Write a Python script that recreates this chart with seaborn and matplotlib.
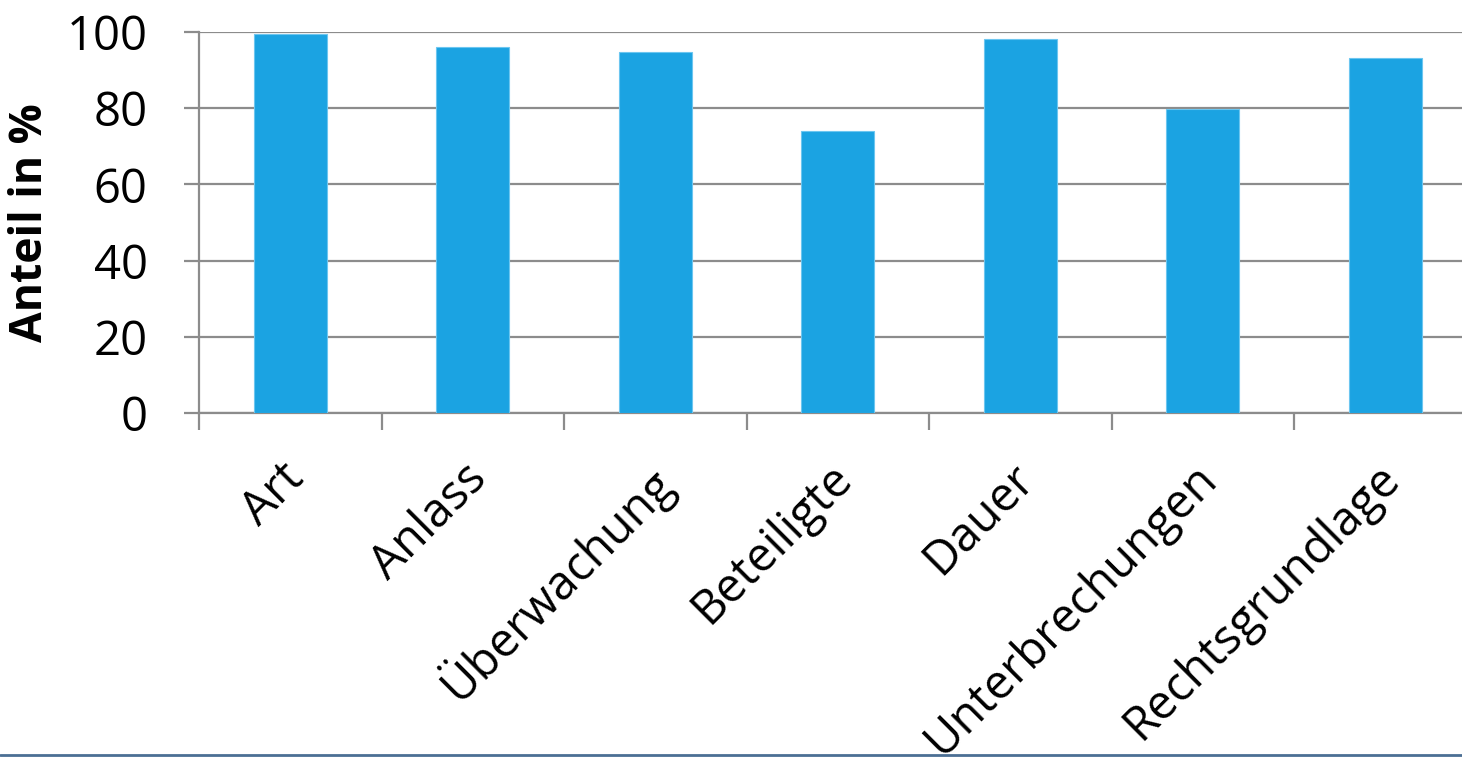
import matplotlib
matplotlib.use("Agg")
import matplotlib.pyplot as plt
import matplotlib.transforms as mtrans
import seaborn as sns
import pandas as pd
from matplotlib.lines import Line2D

# Datos
kategorien = ["Art", "Anlass", "Überwachung", "Beteiligte", "Dauer",
              "Unterbrechungen", "Rechtsgrundlage"]
anteile = [99.4, 96.0, 94.8, 74.1, 98.2, 79.7, 93.3]
y_ticks = [0, 20, 40, 60, 80, 100]

df = pd.DataFrame({"Kategorie": kategorien, "Anteil": anteile})

sns.set_style("white")
plt.rcParams["font.family"] = ["Open Sans", "DejaVu Sans"]

fig = plt.figure(figsize=(14.62, 7.57), dpi=100)
ax = fig.add_axes([199 / 1462, 1 - 413 / 757, 1277.5 / 1462, 381 / 757])

sns.barplot(data=df, x="Kategorie", y="Anteil", color="#1BA3E2",
            saturation=1, width=0.4, edgecolor="#6CC6F0", linewidth=0.8,
            ax=ax, zorder=3)

grau = "#8C8C8C"
ax.set_ylim(0, 100)
ax.set_xlim(-0.5, len(kategorien) - 0.5)
ax.set_yticks(y_ticks)
ax.yaxis.grid(True, color=grau, linewidth=1.6, zorder=0)
ax.set_axisbelow(True)

for s in ["top", "right"]:
    ax.spines[s].set_visible(False)
ax.spines["left"].set_color(grau)
ax.spines["left"].set_linewidth(1.6)
ax.spines["bottom"].set_color(grau)
ax.spines["bottom"].set_linewidth(1.6)

# Trennstriche zwischen Kategorien
ax.set_xticks(range(len(kategorien)))
ax.set_xticks([i - 0.5 for i in range(len(kategorien) + 1)], minor=True)
ax.tick_params(axis="x", which="minor", bottom=True, length=12, width=1.6,
               color=grau)
ax.tick_params(axis="x", which="major", bottom=False, length=0, pad=30,
               labelsize=34, labelcolor="black")
ax.tick_params(axis="y", left=True, length=11, width=1.6, color=grau, pad=26,
               labelsize=34, labelcolor="black")
ax.set_xticklabels(kategorien, rotation=45, ha="right", va="top",
                   rotation_mode="anchor")
versatz = mtrans.ScaledTranslation(-0.1, 0, fig.dpi_scale_trans)
for lbl in ax.get_xticklabels():
    lbl.set_transform(lbl.get_transform() + versatz)

ax.set_xlabel("")
ax.set_ylabel("Anteil in %", fontsize=32, fontweight="bold", labelpad=10,
              color="black")

fig.add_artist(Line2D([0, 1], [2 / 757, 2 / 757], color="#4B6F94",
                      linewidth=2, transform=fig.transFigure))

fig.savefig("out.png", dpi=100)
